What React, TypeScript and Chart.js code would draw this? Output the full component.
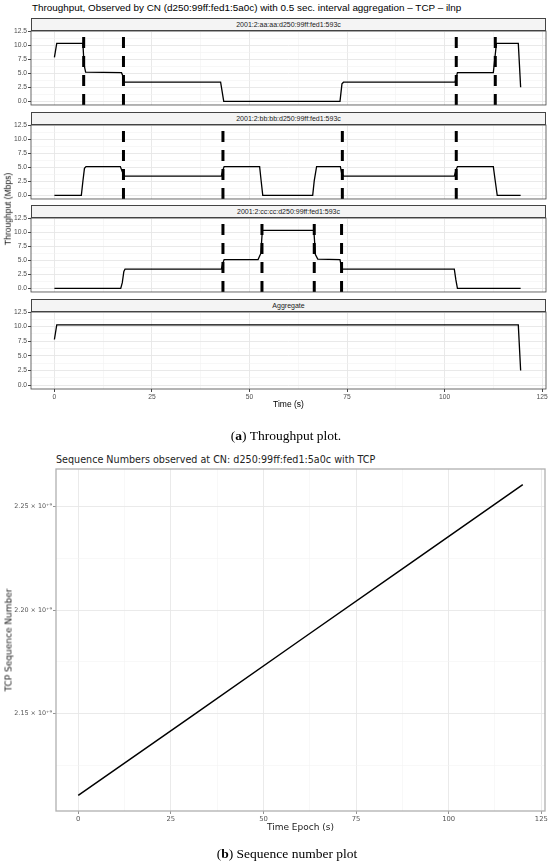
import React, { useEffect, useRef } from "react";
import { Chart, registerables } from "chart.js";

Chart.register(...registerables);

// ---------------- data: throughput facets ----------------
const FACETS = [
  "2001:2:aa:aa:d250:99ff:fed1:593c",
  "2001:2:bb:bb:d250:99ff:fed1:593c",
  "2001:2:cc:cc:d250:99ff:fed1:593c",
  "Aggregate",
];

const T_AA = [0, 0.6, 7.3, 7.6, 8.0, 17.2, 17.5, 18.0, 42.6, 43.4, 73.2, 73.7, 74.1, 102.7, 103.3, 112.5, 113.3, 118.9, 119.5];
const V_AA = [7.8, 10.3, 10.3, 6.5, 5.2, 5.1, 4.6, 3.4, 3.4, 0.0, 0.0, 3.1, 3.4, 3.4, 5.1, 5.1, 10.3, 10.3, 2.5];

const T_BB = [0, 6.9, 7.3, 7.7, 8.1, 16.9, 17.4, 18.0, 42.8, 43.1, 43.5, 52.6, 53.0, 53.4, 66.2, 66.6, 67.2, 73.3, 73.6, 74.1, 102.5, 102.9, 103.3, 112.5, 113.0, 113.5, 119.5];
const V_BB = [0, 0, 2.5, 4.8, 5.1, 5.1, 4.2, 3.4, 3.4, 4.3, 5.1, 5.1, 2.5, 0, 0, 2.6, 5.1, 5.1, 4.0, 3.4, 3.4, 4.4, 5.1, 5.1, 2.5, 0, 0];

const T_CC = [0, 17.0, 17.4, 17.8, 18.1, 42.8, 43.1, 43.5, 52.2, 52.9, 53.3, 66.5, 66.9, 67.5, 73.2, 73.5, 73.8, 102.5, 102.9, 103.3, 119.5];
const V_CC = [0, 0, 1.0, 3.0, 3.4, 3.4, 4.3, 5.1, 5.1, 6.2, 10.3, 10.3, 6.0, 5.2, 5.1, 4.0, 3.4, 3.4, 1.5, 0, 0];

const T_AGG = [0, 0.6, 118.9, 119.5];
const V_AGG = [7.8, 10.3, 10.3, 2.5];

const VL_AA = [7.5, 17.7, 103.0, 113.0];
const VL_BB = [17.7, 43.2, 73.8, 103.0];
const VL_CC = [43.2, 53.2, 66.6, 73.6];
const VL_AGG: number[] = [];

const X_MAJOR = [0, 25, 50, 75, 100, 125];
const X_MINOR = [12.5, 37.5, 62.5, 87.5, 112.5];
const Y_MAJOR = [0, 2.5, 5, 7.5, 10, 12.5];
const Y_MINOR = [1.25, 3.75, 6.25, 8.75, 11.25];

// ---------------- data: sequence numbers ----------------
const SEQ_T = [0, 30, 60, 90, 120];
const SEQ_V = [2.1105e9, 2.148e9, 2.1856e9, 2.2231e9, 2.2607e9];
const SEQ_Y_MAJOR = [2.15e9, 2.2e9, 2.25e9];
const SEQ_Y_MINOR = [2.125e9, 2.175e9, 2.225e9];
const SEQ_Y_LABELS = ["2.15 × 10⁺⁹", "2.20 × 10⁺⁹", "2.25 × 10⁺⁹"];

// ---------------- layout ----------------
const SANS = "'Liberation Sans', Arial, sans-serif";
const DEJA = "'DejaVu Sans', sans-serif";
const SERIF = "'Liberation Serif', serif";

const PLOT_L = 31;
const PLOT_R = 546;
const STRIP_TOPS = [18, 112, 205, 299];
const STRIP_H = 13;
const PLOT_H = 77;
const Y_MIN = -0.65;
const Y_MAX = 12.5;
const PAD_TOP = 6;

const framePlugin = {
  id: "frame",
  afterDraw(chart: any, _args: any, opts: any) {
    const { ctx, chartArea: a } = chart;
    ctx.save();
    ctx.strokeStyle = opts.color;
    ctx.lineWidth = opts.width;
    ctx.strokeRect(a.left, a.top, a.right - a.left, a.bottom - a.top);
    ctx.restore();
  },
};

function isIn(arr: number[], v: number) {
  return arr.some((a) => Math.abs(a - v) < 1e-6 * Math.max(1, Math.abs(a)));
}

function panelConfig(times: number[], values: number[], vlines: number[], showX: boolean): any {
  const datasets: any[] = [
    {
      data: times.map((t, i) => ({ x: t, y: values[i] })),
      borderColor: "#000",
      borderWidth: 1.3,
      pointRadius: 0,
      tension: 0,
    },
    ...vlines.map((t) => ({
      data: [
        { x: t, y: Y_MIN },
        { x: t, y: Y_MAX },
      ],
      borderColor: "#000",
      borderWidth: 3,
      borderDash: [11, 8],
      borderCapStyle: "butt",
      pointRadius: 0,
    })),
  ];
  const xAll = [...X_MAJOR, ...X_MINOR].sort((a, b) => a - b);
  const yAll = [...Y_MAJOR, ...Y_MINOR].sort((a, b) => a - b);
  return {
    type: "line",
    data: { datasets },
    options: {
      animation: false,
      responsive: false,
      events: [],
      layout: { padding: { top: PAD_TOP, right: 550 - PLOT_R, bottom: showX ? 0 : 2, left: 0 } },
      plugins: {
        legend: { display: false },
        tooltip: { enabled: false },
        frame: { color: "#444", width: 0.8 },
      },
      scales: {
        x: {
          type: "linear",
          min: -6,
          max: 126,
          afterBuildTicks: (s: any) => {
            s.ticks = xAll.map((v) => ({ value: v }));
          },
          afterFit: (s: any) => {
            s.height = showX ? 15 : 0;
          },
          ticks: {
            display: showX,
            autoSkip: false,
            maxRotation: 0,
            padding: 1,
            color: "#4d4d4d",
            font: { family: SANS, size: 6.7 },
            callback: (v: number) => (isIn(X_MAJOR, v) ? String(v) : ""),
          },
          grid: {
            color: (c: any) => (c.tick && isIn(X_MAJOR, c.tick.value) ? "#e6e6e6" : "#f2f2f2"),
            lineWidth: (c: any) => (c.tick && isIn(X_MAJOR, c.tick.value) ? 0.9 : 0.6),
            drawTicks: showX,
            tickLength: 3,
            tickColor: (c: any) => (c.tick && isIn(X_MAJOR, c.tick.value) ? "#333" : "rgba(0,0,0,0)"),
          },
          border: { display: false },
        },
        y: {
          type: "linear",
          min: Y_MIN,
          max: Y_MAX,
          afterBuildTicks: (s: any) => {
            s.ticks = yAll.map((v) => ({ value: v }));
          },
          afterFit: (s: any) => {
            s.width = PLOT_L;
          },
          ticks: {
            autoSkip: false,
            padding: 1,
            color: "#4d4d4d",
            font: { family: SANS, size: 6.7 },
            callback: (v: number) => (isIn(Y_MAJOR, v) ? v.toFixed(1) : ""),
          },
          grid: {
            color: (c: any) => (c.tick && isIn(Y_MAJOR, c.tick.value) ? "#e6e6e6" : "#f2f2f2"),
            lineWidth: (c: any) => (c.tick && isIn(Y_MAJOR, c.tick.value) ? 0.9 : 0.6),
            drawTicks: true,
            tickLength: 3,
            tickColor: (c: any) => (c.tick && isIn(Y_MAJOR, c.tick.value) ? "#333" : "rgba(0,0,0,0)"),
          },
          border: { display: false },
        },
      },
    },
    plugins: [framePlugin],
  };
}

// sequence chart layout
const SEQ_TOP = 469;
const SEQ_H = 342;
const SEQ_L = 56;
const SEQ_R = 545;
const SEQ_Y_MIN = 2.103e9;
const SEQ_Y_MAX = 2.2682e9;

function seqConfig(): any {
  const xAll = [...X_MAJOR, ...X_MINOR].sort((a, b) => a - b);
  const yAll = [...SEQ_Y_MAJOR, ...SEQ_Y_MINOR].sort((a, b) => a - b);
  return {
    type: "line",
    data: {
      datasets: [
        {
          data: SEQ_T.map((t, i) => ({ x: t, y: SEQ_V[i] })),
          borderColor: "#000",
          borderWidth: 1.5,
          pointRadius: 0,
          tension: 0,
        },
      ],
    },
    options: {
      animation: false,
      responsive: false,
      events: [],
      layout: { padding: { top: 8, right: 550 - SEQ_R, bottom: 0, left: 0 } },
      plugins: {
        legend: { display: false },
        tooltip: { enabled: false },
        frame: { color: "#b0b0b0", width: 1.3 },
      },
      scales: {
        x: {
          type: "linear",
          min: -6,
          max: 126,
          afterBuildTicks: (s: any) => {
            s.ticks = xAll.map((v) => ({ value: v }));
          },
          afterFit: (s: any) => {
            s.height = 15;
          },
          ticks: {
            autoSkip: false,
            maxRotation: 0,
            padding: 1,
            color: "#555",
            font: { family: DEJA, size: 6.8 },
            callback: (v: number) => (isIn(X_MAJOR, v) ? String(v) : ""),
          },
          grid: {
            color: (c: any) => (c.tick && isIn(X_MAJOR, c.tick.value) ? "#e8e8e8" : "#f3f3f3"),
            lineWidth: (c: any) => (c.tick && isIn(X_MAJOR, c.tick.value) ? 0.9 : 0.6),
            drawTicks: true,
            tickLength: 3,
            tickColor: (c: any) => (c.tick && isIn(X_MAJOR, c.tick.value) ? "#888" : "rgba(0,0,0,0)"),
          },
          border: { display: false },
        },
        y: {
          type: "linear",
          min: SEQ_Y_MIN,
          max: SEQ_Y_MAX,
          afterBuildTicks: (s: any) => {
            s.ticks = yAll.map((v) => ({ value: v }));
          },
          afterFit: (s: any) => {
            s.width = SEQ_L;
          },
          ticks: {
            autoSkip: false,
            padding: 1,
            color: "#555",
            font: { family: DEJA, size: 6.4 },
            callback: (v: number) => {
              const i = SEQ_Y_MAJOR.findIndex((m) => Math.abs(m - v) < 1e3);
              return i >= 0 ? SEQ_Y_LABELS[i] : "";
            },
          },
          grid: {
            color: (c: any) => (c.tick && isIn(SEQ_Y_MAJOR, c.tick.value) ? "#e8e8e8" : "#f3f3f3"),
            lineWidth: (c: any) => (c.tick && isIn(SEQ_Y_MAJOR, c.tick.value) ? 0.9 : 0.6),
            drawTicks: true,
            tickLength: 3,
            tickColor: (c: any) => (c.tick && isIn(SEQ_Y_MAJOR, c.tick.value) ? "#888" : "rgba(0,0,0,0)"),
          },
          border: { display: false },
        },
      },
    },
    plugins: [framePlugin],
  };
}

function ChartCanvas(props: { make: () => any; left: number; top: number; width: number; height: number }) {
  const ref = useRef<HTMLCanvasElement>(null);
  useEffect(() => {
    const chart = new Chart(ref.current as HTMLCanvasElement, props.make());
    return () => chart.destroy();
  }, []);
  return (
    <canvas
      ref={ref}
      width={props.width}
      height={props.height}
      style={{ position: "absolute", left: props.left, top: props.top, width: props.width, height: props.height }}
    />
  );
}

function Text(props: { x: number; y: number; size: number; family: string; children: any; rotate?: boolean; align?: "left" | "center"; color?: string }) {
  const tx = props.align === "left" ? "0" : "-50%";
  return (
    <div
      style={{
        position: "absolute",
        left: props.x,
        top: props.y,
        transform: `translate(${tx}, -50%)${props.rotate ? " rotate(-90deg)" : ""}`,
        transformOrigin: props.rotate ? "center center" : undefined,
        whiteSpace: "nowrap",
        fontFamily: props.family,
        fontSize: props.size,
        lineHeight: 1,
        color: props.color || "#000",
      }}
    >
      {props.children}
    </div>
  );
}

const PANELS = [
  { t: T_AA, v: V_AA, vl: VL_AA },
  { t: T_BB, v: V_BB, vl: VL_BB },
  { t: T_CC, v: V_CC, vl: VL_CC },
  { t: T_AGG, v: V_AGG, vl: VL_AGG },
];

export default function App() {
  return (
    <div style={{ position: "absolute", left: 0, top: 0, width: 550, height: 865, background: "#fff", overflow: "hidden" }}>
      <Text x={32} y={8} size={9.9} family={SANS} align="left">
        Throughput, Observed by CN (d250:99ff:fed1:5a0c) with 0.5 sec. interval aggregation – TCP – ilnp
      </Text>
      {PANELS.map((p, i) => {
        const showX = i === PANELS.length - 1;
        const plotTop = STRIP_TOPS[i] + STRIP_H;
        const h = PAD_TOP + PLOT_H + (showX ? 15 : 2);
        return (
          <React.Fragment key={i}>
            <div
              style={{
                position: "absolute",
                left: PLOT_L,
                top: STRIP_TOPS[i],
                width: PLOT_R - PLOT_L,
                height: STRIP_H,
                boxSizing: "border-box",
                border: "0.8px solid #444",
                background: "#f4f4f4",
                fontFamily: SANS,
                fontSize: 7,
                color: "#1a1a1a",
                textAlign: "center",
                lineHeight: `${STRIP_H - 1.6}px`,
              }}
            >
              {FACETS[i]}
            </div>
            <ChartCanvas
              make={() => panelConfig(p.t, p.v, p.vl, showX)}
              left={0}
              top={plotTop - PAD_TOP}
              width={550}
              height={h}
            />
          </React.Fragment>
        );
      })}
      <Text x={8} y={209} size={8.5} family={SANS} rotate color="#111">
        Throughput (Mbps)
      </Text>
      <Text x={(PLOT_L + PLOT_R) / 2} y={404} size={8.5} family={SANS}>
        Time (s)
      </Text>
      <Text x={286} y={436} size={13.5} family={SERIF}>
        (<b>a</b>) Throughput plot.
      </Text>

      <Text x={56} y={460} size={9.6} family={DEJA} align="left" color="#222">
        Sequence Numbers observed at CN: d250:99ff:fed1:5a0c with TCP
      </Text>
      <ChartCanvas make={seqConfig} left={0} top={SEQ_TOP - 8} width={550} height={8 + SEQ_H + 15} />
      <Text x={9} y={640} size={9} family={DEJA} rotate color="#222">
        TCP Sequence Number
      </Text>
      <Text x={(SEQ_L + SEQ_R) / 2} y={827} size={9} family={DEJA} color="#222">
        Time Epoch (s)
      </Text>
      <Text x={287} y={854} size={13.5} family={SERIF}>
        (<b>b</b>) Sequence number plot
      </Text>
    </div>
  );
}
